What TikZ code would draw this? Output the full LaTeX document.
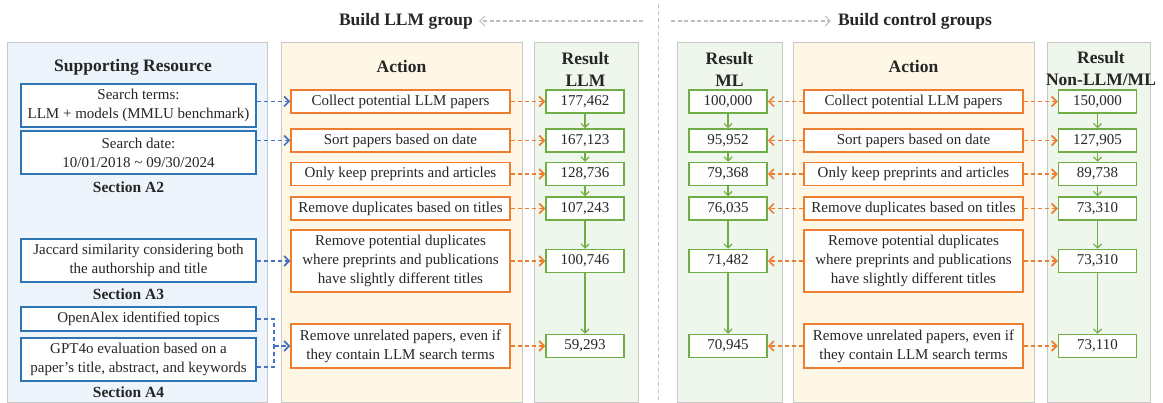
\documentclass[tikz,border=0pt]{standalone}
\usepackage{fontspec}
\setmainfont{Liberation Serif}
\usetikzlibrary{arrows.meta}
\definecolor{srfill}{HTML}{EEF4FB}
\definecolor{acfill}{HTML}{FFF7E5}
\definecolor{rsfill}{HTML}{EFF6EC}
\definecolor{pgray}{HTML}{C8C8C8}
\definecolor{bblue}{HTML}{2E75B6}
\definecolor{ablue}{HTML}{4472C4}
\definecolor{orng}{HTML}{ED7D31}
\definecolor{grn}{HTML}{70AD47}
\definecolor{tgray}{HTML}{BFBFBF}
\definecolor{txt}{HTML}{262626}
\begin{document}
\begin{tikzpicture}[x=1pt,y=-1pt,
  every node/.style={text=txt},
  body/.style={font=\fontsize{15}{19}\selectfont},
  panel/.style={draw=pgray, line width=0.9pt, inner sep=0pt},
  sbox/.style={body, draw=bblue, fill=white, line width=1.5pt, minimum width=235pt, inner sep=0pt, align=center},
  abox/.style={body, draw=orng, fill=white, line width=1.5pt, minimum width=219pt, inner sep=0pt, align=center},
  rbox/.style={body, draw=grn, fill=white, line width=1.5pt, minimum width=78pt, minimum height=23pt, inner sep=0pt},
  hdr/.style={font=\fontsize{17.5}{22}\selectfont\bfseries, align=center, inner sep=0pt},
  sec/.style={font=\fontsize{15.5}{19}\selectfont\bfseries, inner sep=0pt},
  barrow/.style={draw=ablue, line width=1.6pt, dash pattern=on 4.5pt off 2.5pt, -{Straight Barb[length=5pt,width=10pt]}},
  bline/.style={draw=ablue, line width=1.6pt, dash pattern=on 4.5pt off 2.5pt},
  oarrow/.style={draw=orng, line width=1.7pt, dash pattern=on 4.5pt off 2.5pt, -{Straight Barb[length=5pt,width=10pt]}},
  garrow/.style={draw=grn, line width=1.2pt, -{Straight Barb[length=4pt,width=8pt]}},
  tarrow/.style={draw=tgray, line width=1.1pt, dash pattern=on 4pt off 2.5pt, -{Straight Barb[length=5pt,width=10pt]}},
]
\useasboundingbox (0,0) rectangle (1163,403);

% titles
\node[hdr] (t1) at (406,21) {Build LLM group};
\node[hdr] (t2) at (915,21) {Build control groups};
\coordinate (t1s) at (643,21);
\coordinate (t2s) at (671,21);
\draw[tarrow] (t1s) -- ([xshift=6pt]t1.east);
\draw[tarrow] (t2s) -- ([xshift=-7pt]t2.west);
\draw[draw=pgray, line width=0.9pt, dash pattern=on 4pt off 3pt] (658,4) -- (658,403);

% panels
\node[panel, fill=srfill, minimum width=260pt, minimum height=360pt] (sr) at (137,222) {};
\node[panel, fill=acfill, minimum width=241pt, minimum height=360pt] (al) at (401.5,222) {};
\node[panel, fill=rsfill, minimum width=104pt, minimum height=360pt] (rl) at (586,222) {};
\node[panel, fill=rsfill, minimum width=105pt, minimum height=360pt] (rm) at (729.5,222) {};
\node[panel, fill=acfill, minimum width=241pt, minimum height=360pt] (ar) at (913.5,222) {};
\node[panel, fill=rsfill, minimum width=103pt, minimum height=360pt] (rn) at (1098.5,222) {};

% headers
\node[hdr] (hsr) at (133,67) {Supporting Resource};
\node[hdr] (hal) at (401.5,67) {Action};
\node[hdr] (hrl) at (585.5,69) {Result\\LLM};
\node[hdr] (hrm) at (729.5,69) {Result\\ML};
\node[hdr] (har) at (913.5,67) {Action};
\node[hdr] (hrn) at (1101,69) {Result\\Non-LLM/ML};

% supporting boxes
\node[sbox, minimum height=43pt] (sb1) at (138.5,105.5) {Search terms:\\LLM + models (MMLU benchmark)};
\node[sbox, minimum height=43pt] (sb2) at (138.5,152.5) {Search date:\\10/01/2018 \textasciitilde{} 09/30/2024};
\node[sec] (s2) at (128.5,187) {Section A2};
\node[sbox, minimum height=43pt] (sb3) at (138.5,260.5) {Jaccard similarity considering both\\the authorship and title};
\node[sec] (s3) at (128.5,294) {Section A3};
\node[sbox, minimum height=24pt] (sb4) at (138.5,319) {OpenAlex identified topics};
\node[sbox, minimum height=43pt] (sb5) at (138.5,359.5) {GPT4o evaluation based on a\\paper’s title, abstract, and keywords};
\node[sec] (s4) at (128.5,392) {Section A4};

% action boxes (left)
\node[abox, minimum height=23pt] (a1) at (400.5,101.5) {Collect potential LLM papers};
\node[abox, minimum height=23pt] (a2) at (400.5,140.5) {Sort papers based on date};
\node[abox, minimum height=23pt] (a3) at (400.5,174) {Only keep preprints and articles};
\node[abox, minimum height=23pt] (a4) at (400.5,208.5) {Remove duplicates based on titles};
\node[abox, minimum height=62pt] (a5) at (400.5,261) {Remove potential duplicates\\where preprints and publications\\have slightly different titles};
\node[abox, minimum height=44pt] (a6) at (400.5,346) {Remove unrelated papers, even if\\they contain LLM search terms};

% action boxes (right)
\node[abox, minimum height=23pt] (b1) at (913.5,101.5) {Collect potential LLM papers};
\node[abox, minimum height=23pt] (b2) at (913.5,140.5) {Sort papers based on date};
\node[abox, minimum height=23pt] (b3) at (913.5,174) {Only keep preprints and articles};
\node[abox, minimum height=23pt] (b4) at (913.5,208.5) {Remove duplicates based on titles};
\node[abox, minimum height=62pt] (b5) at (913.5,261) {Remove potential duplicates\\where preprints and publications\\have slightly different titles};
\node[abox, minimum height=44pt] (b6) at (913.5,346) {Remove unrelated papers, even if\\they contain LLM search terms};

% result LLM
\node[rbox] (l1) at (585,101.5) {177,462};
\node[rbox] (l2) at (585,140.5) {167,123};
\node[rbox] (l3) at (585,174) {128,736};
\node[rbox] (l4) at (585,208.5) {107,243};
\node[rbox] (l5) at (585,261) {100,746};
\node[rbox] (l6) at (585,346) {59,293};
% result ML
\node[rbox] (m1) at (728,101.5) {100,000};
\node[rbox] (m2) at (728,140.5) {95,952};
\node[rbox] (m3) at (728,174) {79,368};
\node[rbox] (m4) at (728,208.5) {76,035};
\node[rbox] (m5) at (728,261) {71,482};
\node[rbox] (m6) at (728,346) {70,945};
% result non-LLM/ML
\node[rbox] (n1) at (1097.5,101.5) {150,000};
\node[rbox] (n2) at (1097.5,140.5) {127,905};
\node[rbox] (n3) at (1097.5,174) {89,738};
\node[rbox] (n4) at (1097.5,208.5) {73,310};
\node[rbox] (n5) at (1097.5,261) {73,310};
\node[rbox] (n6) at (1097.5,346) {73,110};

% green arrows
\foreach \p in {l,m,n}{
  \draw[garrow] (\p1) -- (\p2);
  \draw[garrow] (\p2) -- (\p3);
  \draw[garrow] (\p3) -- (\p4);
  \draw[garrow] (\p4) -- (\p5);
  \draw[garrow] (\p5) -- (\p6);
}

% orange arrows
\foreach \i in {1,...,6}{
  \draw[oarrow] (a\i) -- (l\i);
  \draw[oarrow] (b\i) -- (m\i);
  \draw[oarrow] (b\i) -- (n\i);
}

% blue arrows
\draw[barrow] (sb1.east |- a1.west) -- (a1.west);
\draw[barrow] (sb2.east |- a2.west) -- (a2.west);
\draw[barrow] (sb3.east |- a5.west) -- (a5.west);
\coordinate (jn) at (274,346);
\draw[bline] (sb4.east) -| (jn);
\draw[bline] ([yshift=-7.5pt]sb5.east) -| (jn);
\draw[barrow] (jn) -- (a6.west);
\end{tikzpicture}
\end{document}
